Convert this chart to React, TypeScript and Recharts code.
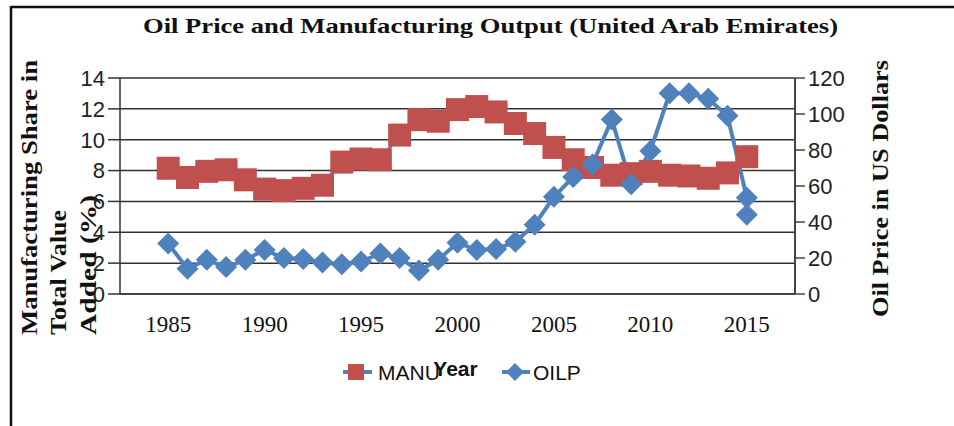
import { ComposedChart, Line, XAxis, YAxis, CartesianGrid, Legend } from 'recharts'

const years = [
  1985, 1986, 1987, 1988, 1989, 1990, 1991, 1992, 1993, 1994, 1995, 1996, 1997, 1998, 1999, 2000,
  2001, 2002, 2003, 2004, 2005, 2006, 2007, 2008, 2009, 2010, 2011, 2012, 2013, 2014, 2015
]
const manu = [
  8.15, 7.55, 7.95, 8.05, 7.4, 6.8, 6.7, 6.85, 7.05, 8.55, 8.75, 8.7, 10.3, 11.3, 11.2, 11.95,
  12.15, 11.8, 11.05, 10.4, 9.5, 8.7, 8.2, 7.7, 7.8, 7.95, 7.7, 7.65, 7.5, 7.85, 8.9
]
// 2015 shows up twice for the oil price
const oilpYears = [...years, 2015]
const oilp = [
  28, 14, 19, 15, 19, 24.5, 20, 19.5, 17.5, 16.5, 18, 22.5, 20, 13, 19, 28.5,
  24.5, 25, 29, 38.5, 54, 65, 72, 97, 61, 79.5, 111.5, 111.5, 108.5, 99, 53.5, 44
]
const yearTicks = [1985, 1990, 1995, 2000, 2005, 2010, 2015]
const manuTicks = [0, 2, 4, 6, 8, 10, 12, 14]
const oilTicks = [0, 20, 40, 60, 80, 100, 120]

const manuData = years.map((year, i) => ({ year, manu: manu[i] }))
const oilpData = oilpYears.map((year, i) => ({ year, oilp: oilp[i] }))

const RED = '#C0504D'
const BLUE = '#4F81BD'
const serif = '"Liberation Serif", "Times New Roman", serif'
const sans = '"Liberation Sans", Arial, sans-serif'

const squareDot = (p: any) => {
  const { cx, cy, index } = p
  if (cx == null || cy == null) return <g key={index} />
  return <rect key={index} x={cx - 11.5} y={cy - 11.5} width={23} height={23} fill={RED} />
}

const diamondDot = (p: any) => {
  const { cx, cy, index } = p
  if (cx == null || cy == null) return <g key={index} />
  const r = 11
  return (
    <polygon
      key={index}
      points={`${cx},${cy - r} ${cx + r},${cy} ${cx},${cy + r} ${cx - r},${cy}`}
      fill={BLUE}
    />
  )
}

const leftTitle = (props: any) => {
  const { x } = props.viewBox
  const bottom = 335
  const lines = [
    { text: 'Manufacturing Share in', dx: -23, len: 275 },
    { text: 'Total Value', dx: 6, len: 125 },
    { text: 'Added (%)', dx: 36, len: 140 }
  ]
  return (
    <g>
      {lines.map((l) => (
        <text
          key={l.text}
          x={x + l.dx}
          y={bottom}
          transform={`rotate(-90 ${x + l.dx} ${bottom})`}
          textAnchor="start"
          fontFamily={serif}
          fontWeight="bold"
          fontSize={23}
          fill="#111"
          textLength={l.len}
          lengthAdjust="spacingAndGlyphs"
        >
          {l.text}
        </text>
      ))}
    </g>
  )
}

const rightTitle = (props: any) => {
  const { x } = props.viewBox
  const tx = x + 93
  const ty = 317
  return (
    <text
      x={tx}
      y={ty}
      transform={`rotate(-90 ${tx} ${ty})`}
      textAnchor="start"
      fontFamily={serif}
      fontWeight="bold"
      fontSize={23}
      fill="#111"
      textLength={257}
      lengthAdjust="spacingAndGlyphs"
    >
      Oil Price in US Dollars
    </text>
  )
}

const yearLabel = (props: any) => {
  const { x, width } = props.viewBox
  return (
    <text x={x + width / 2 - 2} y={376} textAnchor="middle" fontFamily={sans} fontWeight="bold" fontSize={21} fill="#111">
      Year
    </text>
  )
}

const legendContent = () => (
  <svg width={954} height={40} style={{ display: 'block' }}>
    <line x1={343} y1={17} x2={372} y2={17} stroke={BLUE} strokeWidth={4} />
    <rect x={348} y={9} width={16} height={16} fill={RED} />
    <text x={378} y={25} fontFamily={sans} fontSize={21} fill="#111">MANU</text>
    <line x1={502} y1={17} x2={530} y2={17} stroke={BLUE} strokeWidth={4} />
    <polygon points="515,8 524,17 515,26 506,17" fill={BLUE} />
    <text x={533} y={25} fontFamily={sans} fontSize={21} fill="#111">OILP</text>
  </svg>
)

export default function App() {
  return (
    <div style={{ position: 'absolute', left: 0, top: 0, width: 954, height: 426, background: '#fff' }}>
      <ComposedChart width={954} height={426} margin={{ top: 78, right: 89, bottom: 42, left: 60 }}>
        <CartesianGrid yAxisId="left" vertical={false} stroke="#333" strokeWidth={1.5} />
        <XAxis
          dataKey="year"
          type="number"
          domain={[1982.5, 2017.5]}
          ticks={yearTicks}
          interval={0}
          height={90}
          tickLine={false}
          tickSize={0}
          tickMargin={22}
          axisLine={{ stroke: '#444', strokeWidth: 2 }}
          tick={{ fontFamily: serif, fontSize: 23, fill: '#111' }}
          label={{ content: yearLabel }}
        />
        <YAxis
          yAxisId="left"
          domain={[0, 14]}
          ticks={manuTicks}
          interval={0}
          width={60}
          tickSize={12}
          tickMargin={3}
          axisLine={{ stroke: '#333', strokeWidth: 1.5 }}
          tickLine={{ stroke: '#333', strokeWidth: 1.5 }}
          tick={{ fontFamily: sans, fontSize: 22, fill: '#222' }}
          label={{ content: leftTitle }}
        />
        <YAxis
          yAxisId="right"
          orientation="right"
          domain={[0, 120]}
          ticks={oilTicks}
          interval={0}
          width={70}
          tickSize={10}
          tickMargin={3}
          axisLine={{ stroke: '#444', strokeWidth: 2 }}
          tickLine={{ stroke: '#444', strokeWidth: 1.5 }}
          tick={{ fontFamily: sans, fontSize: 22, fill: '#222' }}
          label={{ content: rightTitle }}
        />
        <Legend
          verticalAlign="middle"
          align="center"
          wrapperStyle={{ left: 0, top: 355, width: 954 }}
          content={legendContent}
        />
        <Line
          yAxisId="left"
          data={manuData}
          dataKey="manu"
          name="MANU"
          stroke={BLUE}
          strokeWidth={3}
          dot={squareDot}
          activeDot={false}
          isAnimationActive={false}
        />
        <Line
          yAxisId="right"
          data={oilpData}
          dataKey="oilp"
          name="OILP"
          stroke={BLUE}
          strokeWidth={4}
          dot={diamondDot}
          activeDot={false}
          isAnimationActive={false}
        />
      </ComposedChart>
      <svg
        width={954}
        height={426}
        style={{ position: 'absolute', left: 0, top: 0, pointerEvents: 'none' }}
      >
        <line x1={11} y1={7} x2={954} y2={7} stroke="#111" strokeWidth={2.5} />
        <line x1={11} y1={6} x2={11} y2={426} stroke="#111" strokeWidth={2.5} />
        <text
          x={143}
          y={33}
          fontFamily={serif}
          fontWeight="bold"
          fontSize={22}
          fill="#111"
          textLength={695}
          lengthAdjust="spacingAndGlyphs"
        >
          Oil Price and Manufacturing Output (United Arab Emirates)
        </text>
      </svg>
    </div>
  )
}
